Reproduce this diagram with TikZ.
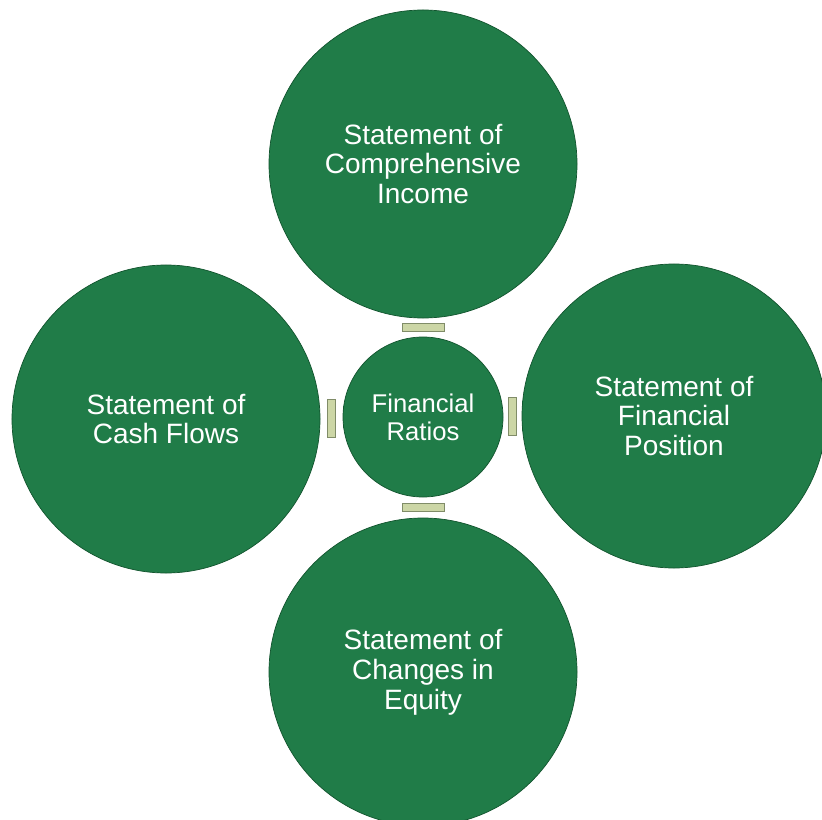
\documentclass[tikz,border=0pt]{standalone}
\usepackage{fontspec}
\setmainfont{Liberation Sans}
\usetikzlibrary{calc}
\definecolor{discA}{RGB}{32,124,72}
\definecolor{discB}{RGB}{24,104,58}
\definecolor{discRim}{RGB}{18,84,46}
\definecolor{linkFill}{RGB}{204,214,166}
\definecolor{linkRim}{RGB}{128,140,104}
\pgfdeclareradialshading{disc}{\pgfpoint{0bp}{0bp}}{color(0bp)=(discA); color(38bp)=(discA); color(50bp)=(discB)}
\tikzset{
  bigdisc/.style={circle, shading=disc, draw=discRim, line width=0.6pt,
    minimum size=9.24cm, inner sep=0pt, text=white, align=center,
    font=\fontsize{23.9pt}{25.6pt}\selectfont},
  hubdisc/.style={bigdisc, minimum size=4.8cm,
    font=\fontsize{21.9pt}{23.9pt}\selectfont},
  hlink/.style={rectangle, fill=linkFill, draw=linkRim, line width=0.4pt,
    minimum width=1.26cm, minimum height=0.24cm, inner sep=0pt},
  vlink/.style={hlink, minimum width=0.24cm, minimum height=1.14cm}
}
\begin{document}
\begin{tikzpicture}[x=0.03cm, y=-0.03cm]
  \useasboundingbox (0,0) rectangle (822,819);
  \node[hubdisc] (ratios) at (423,417) {Financial\\Ratios};
  \node[bigdisc] (income) at (423,164) {Statement of\\Comprehensive\\Income};
  \node[bigdisc] (cash) at (166,419) {Statement of\\Cash Flows};
  \node[bigdisc, minimum size=9.12cm] (position) at (674,416) {Statement of\\Financial\\Position};
  \node[bigdisc] (equity) at (423,672) {Statement of\\Changes in\\Equity};
  \node[hlink] (l1) at ($(ratios.north)!0.5!(income.south)$) {};
  \node[hlink] (l2) at ($(ratios.south)!0.5!(equity.north)$) {};
  \node[vlink] (l3) at ($(ratios.west)!0.5!(cash.east)$) {};
  \node[vlink] (l4) at ($(ratios.east)!0.5!(position.west)$) {};
\end{tikzpicture}
\end{document}
